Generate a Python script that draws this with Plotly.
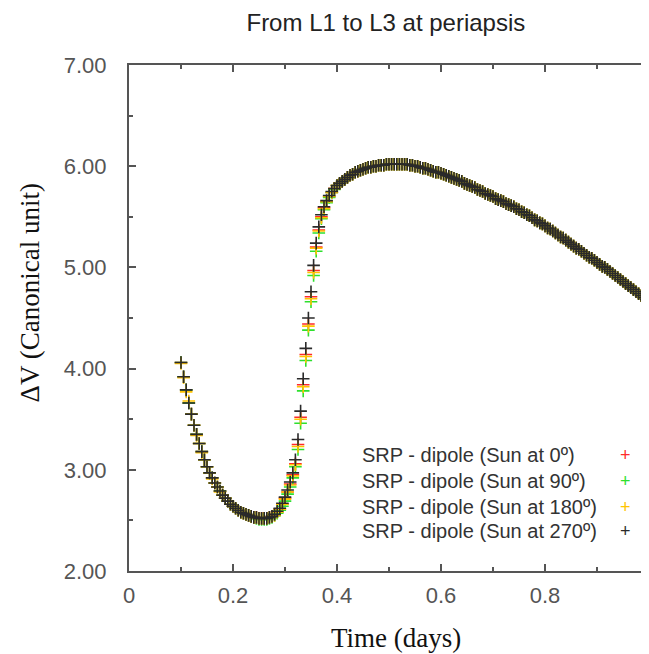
import plotly.graph_objects as go

T = [
    0.100, 0.105, 0.110, 0.115, 0.120, 0.125, 0.130, 0.135, 0.140, 0.145,
    0.150, 0.155, 0.160, 0.165, 0.170, 0.175, 0.180, 0.185, 0.190, 0.195,
    0.200, 0.205, 0.210, 0.215, 0.220, 0.225, 0.230, 0.235, 0.240, 0.245,
    0.250, 0.255, 0.260, 0.265, 0.270, 0.275, 0.280, 0.285, 0.290, 0.295,
    0.300, 0.305, 0.310, 0.315, 0.320, 0.325, 0.330, 0.335, 0.340, 0.345,
    0.350, 0.355, 0.360, 0.365, 0.370, 0.375, 0.380, 0.385, 0.390, 0.395,
    0.400, 0.405, 0.410, 0.415, 0.420, 0.425, 0.430, 0.435, 0.440, 0.445,
    0.450, 0.455, 0.460, 0.465, 0.470, 0.475, 0.480, 0.485, 0.490, 0.495,
    0.500, 0.505, 0.510, 0.515, 0.520, 0.525, 0.530, 0.535, 0.540, 0.545,
    0.550, 0.555, 0.560, 0.565, 0.570, 0.575, 0.580, 0.585, 0.590, 0.595,
    0.600, 0.605, 0.610, 0.615, 0.620, 0.625, 0.630, 0.635, 0.640, 0.645,
    0.650, 0.655, 0.660, 0.665, 0.670, 0.675, 0.680, 0.685, 0.690, 0.695,
    0.700, 0.705, 0.710, 0.715, 0.720, 0.725, 0.730, 0.735, 0.740, 0.745,
    0.750, 0.755, 0.760, 0.765, 0.770, 0.775, 0.780, 0.785, 0.790, 0.795,
    0.800, 0.805, 0.810, 0.815, 0.820, 0.825, 0.830, 0.835, 0.840, 0.845,
    0.850, 0.855, 0.860, 0.865, 0.870, 0.875, 0.880, 0.885, 0.890, 0.895,
    0.900, 0.905, 0.910, 0.915, 0.920, 0.925, 0.930, 0.935, 0.940, 0.945,
    0.950, 0.955, 0.960, 0.965, 0.970, 0.975, 0.980, 0.985, 0.990, 0.995,
    1.000,
]

DV_SUN_0 = [
    4.06, 3.92, 3.79, 3.66, 3.55, 3.44, 3.35, 3.26, 3.18, 3.10,
    3.03, 2.97, 2.92, 2.87, 2.83, 2.79, 2.75, 2.72, 2.69, 2.66,
    2.64, 2.62, 2.60, 2.58, 2.57, 2.56, 2.55, 2.54, 2.53, 2.53,
    2.52, 2.52, 2.52, 2.52, 2.53, 2.54, 2.56, 2.58, 2.61, 2.66,
    2.72, 2.78, 2.86, 2.95, 3.06, 3.25, 3.52, 3.84, 4.14, 4.44,
    4.71, 4.97, 5.20, 5.37, 5.50, 5.59, 5.65, 5.70, 5.74, 5.78,
    5.81, 5.83, 5.85, 5.87, 5.89, 5.91, 5.92, 5.94, 5.95, 5.96,
    5.97, 5.98, 5.99, 5.99, 6.00, 6.00, 6.01, 6.01, 6.01, 6.02,
    6.02, 6.02, 6.02, 6.02, 6.02, 6.02, 6.02, 6.02, 6.01, 6.01,
    6.00, 6.00, 5.99, 5.98, 5.98, 5.97, 5.96, 5.95, 5.94, 5.94,
    5.93, 5.92, 5.91, 5.90, 5.89, 5.88, 5.87, 5.86, 5.85, 5.83,
    5.82, 5.81, 5.80, 5.79, 5.77, 5.76, 5.75, 5.73, 5.72, 5.71,
    5.70, 5.68, 5.67, 5.66, 5.65, 5.63, 5.62, 5.61, 5.60, 5.58,
    5.57, 5.55, 5.54, 5.52, 5.51, 5.49, 5.47, 5.46, 5.44, 5.43,
    5.41, 5.39, 5.38, 5.36, 5.34, 5.32, 5.30, 5.29, 5.27, 5.25,
    5.23, 5.21, 5.19, 5.18, 5.16, 5.14, 5.12, 5.10, 5.09, 5.07,
    5.05, 5.03, 5.01, 5.00, 4.98, 4.96, 4.94, 4.92, 4.90, 4.88,
    4.86, 4.84, 4.82, 4.80, 4.78, 4.76, 4.74, 4.72, 4.70, 4.68,
    4.66,
]

DV_SUN_90 = [
    4.06, 3.92, 3.79, 3.66, 3.55, 3.44, 3.35, 3.26, 3.18, 3.10,
    3.03, 2.97, 2.92, 2.87, 2.83, 2.79, 2.75, 2.72, 2.69, 2.66,
    2.64, 2.62, 2.60, 2.58, 2.57, 2.56, 2.55, 2.54, 2.53, 2.52,
    2.51, 2.51, 2.51, 2.51, 2.52, 2.53, 2.55, 2.57, 2.60, 2.64,
    2.69, 2.76, 2.83, 2.92, 3.03, 3.20, 3.46, 3.78, 4.08, 4.38,
    4.66, 4.92, 5.16, 5.34, 5.48, 5.57, 5.64, 5.69, 5.74, 5.77,
    5.81, 5.83, 5.85, 5.87, 5.89, 5.91, 5.92, 5.94, 5.95, 5.96,
    5.97, 5.98, 5.99, 5.99, 6.00, 6.00, 6.01, 6.01, 6.01, 6.02,
    6.02, 6.02, 6.02, 6.02, 6.02, 6.02, 6.02, 6.02, 6.01, 6.01,
    6.00, 6.00, 5.99, 5.98, 5.98, 5.97, 5.96, 5.95, 5.94, 5.94,
    5.93, 5.92, 5.91, 5.90, 5.89, 5.88, 5.87, 5.86, 5.85, 5.83,
    5.82, 5.81, 5.80, 5.79, 5.77, 5.76, 5.75, 5.73, 5.72, 5.71,
    5.70, 5.68, 5.67, 5.66, 5.65, 5.63, 5.62, 5.61, 5.60, 5.58,
    5.57, 5.55, 5.54, 5.52, 5.51, 5.49, 5.47, 5.46, 5.44, 5.43,
    5.41, 5.39, 5.38, 5.36, 5.34, 5.32, 5.30, 5.29, 5.27, 5.25,
    5.23, 5.21, 5.19, 5.18, 5.16, 5.14, 5.12, 5.10, 5.09, 5.07,
    5.05, 5.03, 5.01, 5.00, 4.98, 4.96, 4.94, 4.92, 4.90, 4.88,
    4.86, 4.84, 4.82, 4.80, 4.78, 4.76, 4.74, 4.72, 4.70, 4.68,
    4.66,
]

DV_SUN_180 = [
    4.05, 3.91, 3.77, 3.68, 3.55, 3.44, 3.34, 3.26, 3.17, 3.10,
    3.03, 2.97, 2.91, 2.87, 2.83, 2.78, 2.75, 2.72, 2.69, 2.66,
    2.64, 2.62, 2.60, 2.58, 2.57, 2.56, 2.55, 2.54, 2.53, 2.53,
    2.52, 2.52, 2.52, 2.52, 2.53, 2.54, 2.55, 2.58, 2.61, 2.66,
    2.71, 2.78, 2.85, 2.94, 3.05, 3.23, 3.50, 3.82, 4.12, 4.42,
    4.69, 4.95, 5.19, 5.36, 5.49, 5.58, 5.65, 5.70, 5.74, 5.78,
    5.81, 5.83, 5.85, 5.87, 5.89, 5.91, 5.92, 5.94, 5.95, 5.96,
    5.97, 5.98, 5.99, 5.99, 6.00, 6.00, 6.01, 6.01, 6.01, 6.02,
    6.02, 6.02, 6.02, 6.02, 6.02, 6.02, 6.02, 6.02, 6.01, 6.01,
    6.00, 6.00, 5.99, 5.98, 5.98, 5.97, 5.96, 5.95, 5.94, 5.94,
    5.93, 5.92, 5.91, 5.90, 5.89, 5.88, 5.87, 5.86, 5.85, 5.83,
    5.82, 5.81, 5.80, 5.79, 5.77, 5.76, 5.75, 5.73, 5.72, 5.71,
    5.70, 5.68, 5.67, 5.66, 5.65, 5.63, 5.62, 5.61, 5.60, 5.58,
    5.57, 5.55, 5.54, 5.52, 5.51, 5.49, 5.47, 5.46, 5.44, 5.43,
    5.41, 5.39, 5.38, 5.36, 5.34, 5.32, 5.30, 5.29, 5.27, 5.25,
    5.23, 5.21, 5.19, 5.18, 5.16, 5.14, 5.12, 5.10, 5.09, 5.07,
    5.05, 5.03, 5.01, 5.00, 4.98, 4.96, 4.94, 4.92, 4.90, 4.88,
    4.86, 4.84, 4.82, 4.80, 4.78, 4.76, 4.74, 4.72, 4.70, 4.68,
    4.66,
]

DV_SUN_270 = [
    4.06, 3.92, 3.79, 3.66, 3.55, 3.44, 3.35, 3.26, 3.18, 3.10,
    3.03, 2.97, 2.92, 2.87, 2.83, 2.79, 2.75, 2.72, 2.69, 2.66,
    2.64, 2.62, 2.60, 2.58, 2.57, 2.56, 2.55, 2.54, 2.53, 2.53,
    2.52, 2.52, 2.52, 2.52, 2.53, 2.54, 2.56, 2.59, 2.62, 2.67,
    2.73, 2.80, 2.88, 2.97, 3.10, 3.30, 3.58, 3.90, 4.20, 4.50,
    4.76, 5.02, 5.24, 5.40, 5.52, 5.60, 5.66, 5.71, 5.75, 5.78,
    5.81, 5.83, 5.85, 5.87, 5.89, 5.91, 5.92, 5.94, 5.95, 5.96,
    5.97, 5.98, 5.99, 5.99, 6.00, 6.00, 6.01, 6.01, 6.01, 6.02,
    6.02, 6.02, 6.02, 6.02, 6.02, 6.02, 6.02, 6.02, 6.01, 6.01,
    6.00, 6.00, 5.99, 5.98, 5.98, 5.97, 5.96, 5.95, 5.94, 5.94,
    5.93, 5.92, 5.91, 5.90, 5.89, 5.88, 5.87, 5.86, 5.85, 5.83,
    5.82, 5.81, 5.80, 5.79, 5.77, 5.76, 5.75, 5.73, 5.72, 5.71,
    5.70, 5.68, 5.67, 5.66, 5.65, 5.63, 5.62, 5.61, 5.60, 5.58,
    5.57, 5.55, 5.54, 5.52, 5.51, 5.49, 5.47, 5.46, 5.44, 5.43,
    5.41, 5.39, 5.38, 5.36, 5.34, 5.32, 5.30, 5.29, 5.27, 5.25,
    5.23, 5.21, 5.19, 5.18, 5.16, 5.14, 5.12, 5.10, 5.09, 5.07,
    5.05, 5.03, 5.01, 5.00, 4.98, 4.96, 4.94, 4.92, 4.90, 4.88,
    4.86, 4.84, 4.82, 4.80, 4.78, 4.76, 4.74, 4.72, 4.70, 4.68,
    4.66,
]

SERIES_NAMES = [
    "SRP - dipole (Sun at 0º)",
    "SRP - dipole (Sun at 90º)",
    "SRP - dipole (Sun at 180º)",
    "SRP - dipole (Sun at 270º)",
]
SERIES_VALUES = [DV_SUN_0, DV_SUN_90, DV_SUN_180, DV_SUN_270]
SERIES_COLORS = ["#ff2a2a", "#2ee02e", "#ffc400", "#2a2a2a"]

X_TICKS = [0, 0.2, 0.4, 0.6, 0.8, 1.0]
X_TICK_LABELS = ["0", "0.2", "0.4", "0.6", "0.8", "1"]
Y_TICKS = [2, 3, 4, 5, 6, 7]
Y_TICK_LABELS = ["2.00", "3.00", "4.00", "5.00", "6.00", "7.00"]

fig = go.Figure()
for name, vals, col in zip(SERIES_NAMES, SERIES_VALUES, SERIES_COLORS):
    fig.add_trace(go.Scatter(
        x=T, y=vals, mode="markers", name=name, showlegend=False,
        cliponaxis=False,
        marker=dict(symbol="cross-thin", size=9, color=col,
                    line=dict(color=col, width=1.6)),
    ))

SANS = "Liberation Sans, Arial, sans-serif"
SERIF = "Liberation Serif, Times New Roman, serif"
AX = "#555555"

# the page body adds an 8px offset, so the figure is 8px smaller than the window
fig.update_layout(
    width=641, height=646,
    margin=dict(l=121, r=0, t=57, b=83),
    paper_bgcolor="white", plot_bgcolor="white",
    title=dict(text="From L1 to L3 at periapsis", x=0.494, xref="paper",
               xanchor="center", y=0.978, yref="container", yanchor="middle",
               font=dict(family=SANS, size=24, color="#222222")),
    xaxis=dict(range=[0, 1], tickvals=X_TICKS, ticktext=X_TICK_LABELS,
               ticks="inside", ticklen=7, tickwidth=1.5, tickcolor=AX,
               showline=True, linecolor=AX, linewidth=2, mirror="ticks",
               showgrid=False, zeroline=False, automargin=False,
               ticklabeloverflow="allow",
               tickfont=dict(family=SANS, size=22, color="#555555"),
               minor=dict(dtick=0.1, ticks="inside", ticklen=4, tickcolor=AX,
                          tickwidth=1.5, showgrid=False),
               ticklabelstandoff=4),
    yaxis=dict(range=[2, 7], tickvals=Y_TICKS, ticktext=Y_TICK_LABELS,
               ticks="inside", ticklen=7, tickwidth=1.5, tickcolor=AX,
               showline=True, linecolor=AX, linewidth=2, mirror="ticks",
               showgrid=False, zeroline=False, automargin=False,
               tickfont=dict(family=SANS, size=22, color="#555555"),
               minor=dict(dtick=0.5, ticks="inside", ticklen=4, tickcolor=AX,
                          tickwidth=1.5, showgrid=False),
               ticklabelstandoff=16),
)

# axis titles
fig.add_annotation(text="Time (days)", xref="paper", yref="paper", x=0.513, y=-0.132,
                   xanchor="center", yanchor="middle", showarrow=False,
                   font=dict(family=SERIF, size=27, color="#111111"))
fig.add_annotation(text="ΔV (Canonical unit)", xref="paper", yref="paper", x=-0.190, y=0.549,
                   xanchor="center", yanchor="middle", showarrow=False, textangle=-90,
                   font=dict(family=SERIF, size=27, color="#111111"))

# gnuplot-style key: text then sample symbol to the right
KEY_Y = [0.229, 0.178, 0.126, 0.079]
for name, col, ky in zip(SERIES_NAMES, SERIES_COLORS, KEY_Y):
    fig.add_annotation(text=name, xref="paper", yref="paper", x=0.444, y=ky,
                       xanchor="left", yanchor="middle", showarrow=False,
                       font=dict(family=SANS, size=20, color="#333333"))
    fig.add_annotation(text="+", xref="paper", yref="paper", x=0.954, y=ky,
                       xanchor="center", yanchor="middle", showarrow=False,
                       font=dict(family=SANS, size=18, color=col))

fig.write_html("out.html")
